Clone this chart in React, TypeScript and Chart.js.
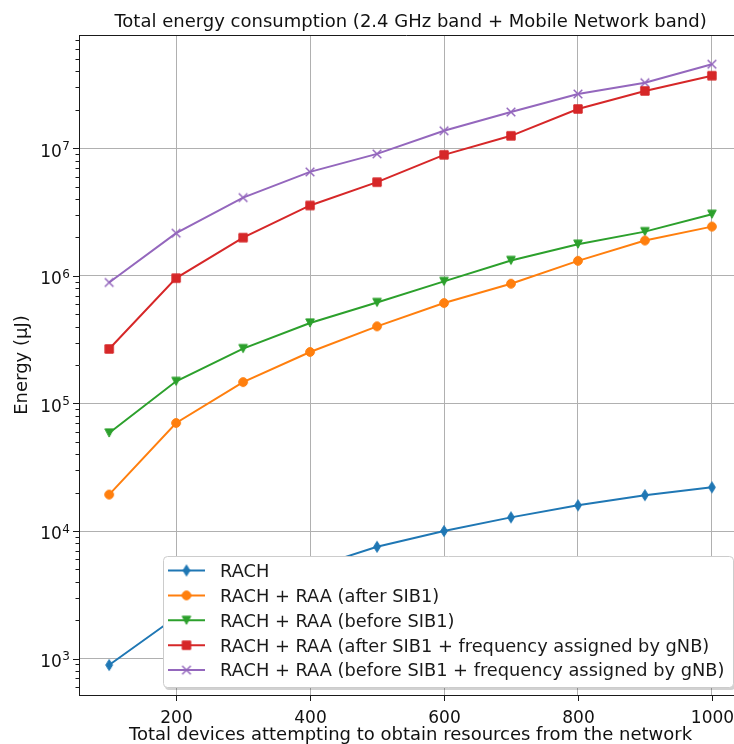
import { useEffect, useRef } from 'react';
import { Chart, registerables } from 'chart.js';

Chart.register(...registerables);

// Number of devices on the x axis
const devices = [100, 200, 300, 400, 500, 600, 700, 800, 900, 1000];

// Energy per scenario (µJ)
const rach = [891, 2120, 3470, 5100, 7530, 10000, 12800, 15900, 19100, 22000];
const raaAfterSib1 = [19300, 70300, 147000, 253000, 402000, 612000, 867000, 1310000, 1890000, 2430000];
const raaBeforeSib1 = [58700, 149000, 269000, 427000, 618000, 904000, 1320000, 1770000, 2220000, 3040000];
const raaAfterSib1Freq = [267000, 959000, 1990000, 3560000, 5420000, 8870000, 12500000, 20300000, 28100000, 37000000];
const raaBeforeSib1Freq = [887000, 2160000, 4100000, 6520000, 9020000, 13700000, 19200000, 26600000, 32600000, 45500000];

const seriesLabels = [
  'RACH',
  'RACH + RAA (after SIB1)',
  'RACH + RAA (before SIB1)',
  'RACH + RAA (after SIB1 + frequency assigned by gNB)',
  'RACH + RAA (before SIB1 + frequency assigned by gNB)',
];
const seriesValues = [rach, raaAfterSib1, raaBeforeSib1, raaAfterSib1Freq, raaBeforeSib1Freq];
const seriesColors = ['#1f77b4', '#ff7f0e', '#2ca02c', '#d62728', '#9467bd'];
const seriesMarkers = ['thinDiamond', 'circle', 'triangleDown', 'square', 'x'];

const xTickValues = [200, 400, 600, 800, 1000];
const yDecades = [3, 4, 5, 6, 7];

const titleText = 'Total energy consumption (2.4 GHz band + Mobile Network band)';
const xTitle = 'Total devices attempting to obtain resources from the network';
const yTitle = 'Energy (µJ)';

const FONT = '"DejaVu Sans", sans-serif';
const SPINE = '#1a1a1a';

function makeMarker(kind: string, color: string): HTMLCanvasElement {
  const s = 16;
  const c = document.createElement('canvas');
  c.width = s;
  c.height = s;
  const ctx = c.getContext('2d')!;
  const m = s / 2;
  ctx.fillStyle = color;
  ctx.strokeStyle = color;
  ctx.lineWidth = 1;
  ctx.lineJoin = 'miter';
  ctx.beginPath();
  if (kind === 'thinDiamond') {
    ctx.moveTo(m, m - 5.5);
    ctx.lineTo(m + 3.4, m);
    ctx.lineTo(m, m + 5.5);
    ctx.lineTo(m - 3.4, m);
    ctx.closePath();
    ctx.fill();
    ctx.stroke();
  } else if (kind === 'circle') {
    ctx.arc(m, m, 4.4, 0, Math.PI * 2);
    ctx.fill();
    ctx.stroke();
  } else if (kind === 'triangleDown') {
    ctx.moveTo(m - 4.3, m - 4.1);
    ctx.lineTo(m + 4.3, m - 4.1);
    ctx.lineTo(m, m + 4.1);
    ctx.closePath();
    ctx.fill();
    ctx.stroke();
  } else if (kind === 'square') {
    ctx.rect(m - 4.2, m - 4.2, 8.4, 8.4);
    ctx.fill();
    ctx.stroke();
  } else {
    ctx.lineWidth = 1.5;
    ctx.moveTo(m - 4.3, m - 4.3);
    ctx.lineTo(m + 4.3, m + 4.3);
    ctx.moveTo(m + 4.3, m - 4.3);
    ctx.lineTo(m - 4.3, m + 4.3);
    ctx.stroke();
  }
  return c;
}

export default function App() {
  const canvasRef = useRef<HTMLCanvasElement | null>(null);

  useEffect(() => {
    const canvas = canvasRef.current;
    if (!canvas) return;

    const markers = seriesMarkers.map((k, i) => makeMarker(k, seriesColors[i]));

    // Ticks, tick labels, titles and top spine
    const axisDecor = {
      id: 'axisDecor',
      afterDraw(chart: any) {
        const ctx = chart.ctx as CanvasRenderingContext2D;
        const { left, right, top, bottom } = chart.chartArea;
        const xs = chart.scales.x;
        const ys = chart.scales.y;
        ctx.save();

        // top spine
        ctx.strokeStyle = SPINE;
        ctx.lineWidth = 1;
        ctx.beginPath();
        ctx.moveTo(left, top + 0.5);
        ctx.lineTo(right, top + 0.5);
        ctx.stroke();

        // x ticks
        ctx.fillStyle = '#111';
        ctx.font = `17px ${FONT}`;
        ctx.textAlign = 'center';
        ctx.textBaseline = 'alphabetic';
        for (const v of xTickValues) {
          const px = Math.round(xs.getPixelForValue(v)) + 0.5;
          ctx.beginPath();
          ctx.moveTo(px, bottom);
          ctx.lineTo(px, bottom + 6);
          ctx.stroke();
          ctx.fillText(String(v), px, 723);
        }

        // y major/minor ticks
        const yMin = ys.min;
        const yMax = ys.max;
        for (let d = 2; d <= 8; d++) {
          for (let m = 1; m <= 9; m++) {
            const v = m * Math.pow(10, d);
            if (v < yMin || v > yMax) continue;
            const py = Math.round(ys.getPixelForValue(v)) + 0.5;
            const len = m === 1 ? 6 : 3.5;
            ctx.beginPath();
            ctx.moveTo(left, py);
            ctx.lineTo(left - len, py);
            ctx.stroke();
          }
        }

        // y tick labels as 10^n
        for (const d of yDecades) {
          const py = ys.getPixelForValue(Math.pow(10, d));
          ctx.font = `12px ${FONT}`;
          const expW = ctx.measureText(String(d)).width;
          ctx.font = `17px ${FONT}`;
          const baseW = ctx.measureText('10').width;
          const xEnd = 70;
          ctx.textAlign = 'left';
          ctx.fillText('10', xEnd - expW - baseW - 0.5, py + 8.4);
          ctx.font = `12px ${FONT}`;
          ctx.fillText(String(d), xEnd - expW, py + 1.7);
        }

        // title
        ctx.font = `18px ${FONT}`;
        ctx.textAlign = 'center';
        const centerX = xs.getPixelForValue(550);
        ctx.fillText(titleText, centerX, 26.5);

        // x title
        ctx.font = `18px ${FONT}`;
        ctx.fillText(xTitle, centerX, 740);

        // y title
        ctx.save();
        ctx.translate(27, (top + bottom) / 2);
        ctx.rotate(-Math.PI / 2);
        ctx.font = `18px ${FONT}`;
        ctx.fillText(yTitle, 0, 0);
        ctx.restore();

        ctx.restore();
      },
    };

    // Framed legend in the lower right of the plot
    const legendBox = {
      id: 'legendBox',
      afterDraw(chart: any) {
        const ctx = chart.ctx as CanvasRenderingContext2D;
        const bx = 163;
        const by = 556;
        const bw = 570;
        const bh = 131;
        const r = 4;
        const roundRect = (x: number, y: number, w: number, h: number) => {
          ctx.beginPath();
          ctx.moveTo(x + r, y);
          ctx.lineTo(x + w - r, y);
          ctx.quadraticCurveTo(x + w, y, x + w, y + r);
          ctx.lineTo(x + w, y + h - r);
          ctx.quadraticCurveTo(x + w, y + h, x + w - r, y + h);
          ctx.lineTo(x + r, y + h);
          ctx.quadraticCurveTo(x, y + h, x, y + h - r);
          ctx.lineTo(x, y + r);
          ctx.quadraticCurveTo(x, y, x + r, y);
          ctx.closePath();
        };
        ctx.save();
        ctx.fillStyle = 'rgba(0,0,0,0.18)';
        roundRect(bx + 2, by + 3, bw, bh);
        ctx.fill();
        ctx.fillStyle = '#ffffff';
        roundRect(bx + 0.5, by + 0.5, bw, bh);
        ctx.fill();
        ctx.strokeStyle = '#cccccc';
        ctx.lineWidth = 1;
        ctx.stroke();

        ctx.font = `17.8px ${FONT}`;
        ctx.textAlign = 'left';
        ctx.textBaseline = 'alphabetic';
        seriesLabels.forEach((label, i) => {
          const cy = 570.5 + i * 24.9;
          ctx.strokeStyle = seriesColors[i];
          ctx.lineWidth = 2;
          ctx.beginPath();
          ctx.moveTo(168, cy);
          ctx.lineTo(205, cy);
          ctx.stroke();
          const mk = markers[i];
          ctx.drawImage(mk, 186.5 - mk.width / 2, cy - mk.height / 2);
          ctx.fillStyle = '#1a1a1a';
          ctx.fillText(label, 220, cy + 6.3);
        });
        ctx.restore();
      },
    };

    const noPad = (s: any) => {
      s.paddingLeft = 0;
      s.paddingRight = 0;
      s.paddingTop = 0;
      s.paddingBottom = 0;
    };

    const chart = new Chart(canvas, {
      type: 'line',
      data: {
        datasets: seriesValues.map((vals, i) => ({
          label: seriesLabels[i],
          data: devices.map((d, j) => ({ x: d, y: vals[j] })),
          borderColor: seriesColors[i],
          backgroundColor: seriesColors[i],
          borderWidth: 2,
          pointStyle: markers[i] as any,
          pointRadius: 5,
          pointHoverRadius: 5,
          tension: 0,
          fill: false,
        })),
      },
      options: {
        responsive: false,
        animation: false,
        devicePixelRatio: 1,
        events: [],
        layout: { autoPadding: false, padding: { top: 35, left: 0, right: 0, bottom: 0 } },
        plugins: {
          legend: { display: false },
          title: { display: false },
          tooltip: { enabled: false },
        },
        scales: {
          x: {
            type: 'linear',
            min: 55,
            max: 1033,
            afterBuildTicks: (s: any) => {
              s.ticks = xTickValues.map((v) => ({ value: v }));
            },
            afterFit: (s: any) => {
              s.height = 49;
              noPad(s);
            },
            grid: { color: '#b0b0b0', lineWidth: 1, drawTicks: false },
            border: { display: true, color: SPINE, width: 1 },
            ticks: { display: false },
          },
          y: {
            type: 'logarithmic',
            min: 519,
            max: 7.71e7,
            afterBuildTicks: (s: any) => {
              s.ticks = yDecades.map((d) => ({ value: Math.pow(10, d) }));
            },
            afterFit: (s: any) => {
              s.width = 79;
              noPad(s);
            },
            grid: { color: '#b0b0b0', lineWidth: 1, drawTicks: false },
            border: { display: true, color: SPINE, width: 1 },
            ticks: { display: false },
          },
        },
      },
      plugins: [axisDecor, legendBox],
    });

    return () => chart.destroy();
  }, []);

  return (
    <div style={{ position: 'absolute', left: 0, top: 0, width: 734, height: 744, background: '#fff' }}>
      <canvas ref={canvasRef} width={734} height={744} style={{ display: 'block' }} />
    </div>
  );
}
